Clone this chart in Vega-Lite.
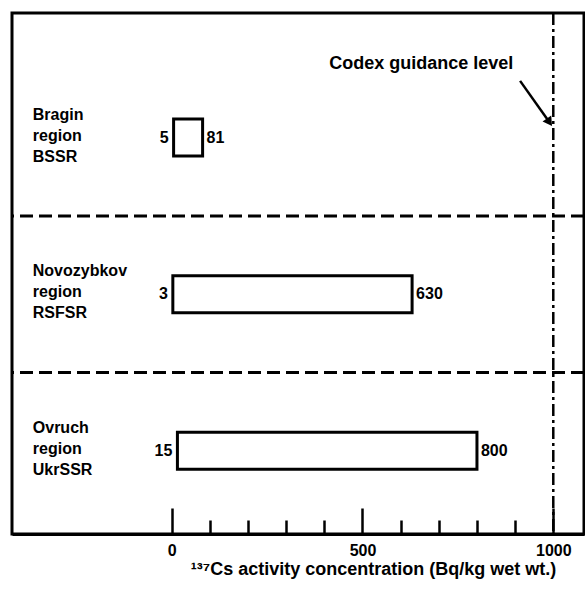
{
  "$schema": "https://vega.github.io/schema/vega-lite/v6.json",
  "width": 572,
  "height": 521,
  "autosize": {"type": "none"},
  "padding": {"left": 12, "top": 13, "right": 1, "bottom": 55},
  "background": "white",
  "config": {
    "view": {"stroke": "black", "strokeWidth": 3},
    "font": "Liberation Sans",
    "text": {"font": "Liberation Sans", "fontWeight": "bold", "fontSize": 16, "color": "black"}
  },
  "datasets": {
    "regions": [
      {"region": "Bragin\nregion\nBSSR", "row": 1, "lo": 5, "hi": 81},
      {"region": "Novozybkov\nregion\nRSFSR", "row": 2, "lo": 3, "hi": 630},
      {"region": "Ovruch\nregion\nUkrSSR", "row": 3, "lo": 15, "hi": 800}
    ],
    "separators": [{"row": 1.5}, {"row": 2.5}],
    "guidance": [{"level": 1000, "label": "Codex guidance level"}]
  },
  "resolve": {"axis": {"x": "independent"}},
  "layer": [
    {
      "data": {"name": "regions"},
      "mark": {"type": "bar", "orient": "horizontal", "size": 37, "fill": "white", "stroke": "black", "strokeWidth": 3},
      "encoding": {
        "y": {"field": "row", "type": "quantitative", "scale": {"domain": [0.2365, 3.499], "reverse": true, "nice": false, "zero": false}, "axis": null},
        "x": {
          "field": "lo", "type": "quantitative",
          "scale": {"domain": [-418.5, 1080.5], "nice": false, "zero": false},
          "axis": {
            "orient": "bottom",
            "values": [0, 500, 1000], "grid": false, "format": "d",
            "tickSize": -26, "tickWidth": 2.5, "tickColor": "black",
            "domainColor": "black", "domainWidth": 3,
            "labelFont": "Liberation Sans", "labelFontWeight": "bold", "labelFontSize": 16, "labelColor": "black", "labelPadding": 34,
            "title": "¹³⁷Cs activity concentration (Bq/kg wet wt.)",
            "titleFont": "Liberation Sans", "titleFontWeight": "bold", "titleFontSize": 18, "titleColor": "black",
            "titleX": 361, "titleY": 35, "titleBaseline": "middle", "titleAlign": "center"
          }
        },
        "x2": {"field": "hi"}
      }
    },
    {
      "data": {"name": "regions"},
      "mark": {"type": "text", "align": "right", "baseline": "middle", "dx": -5},
      "encoding": {
        "y": {"field": "row", "type": "quantitative", "axis": null},
        "x": {
          "field": "lo", "type": "quantitative",
          "axis": {
            "orient": "bottom",
            "values": [100, 200, 300, 400, 600, 700, 800, 900], "grid": false,
            "tickSize": -14, "tickWidth": 2.5, "tickColor": "black",
            "domain": false, "labels": false, "title": null
          }
        },
        "text": {"field": "lo"}
      }
    },
    {
      "data": {"name": "regions"},
      "mark": {"type": "text", "align": "left", "baseline": "middle", "dx": 4},
      "encoding": {
        "y": {"field": "row", "type": "quantitative", "axis": null},
        "x": {"field": "hi", "type": "quantitative", "axis": null},
        "text": {"field": "hi"}
      }
    },
    {
      "data": {"name": "regions"},
      "mark": {"type": "text", "align": "left", "baseline": "middle", "lineBreak": "\n", "lineHeight": 21, "dy": -23},
      "encoding": {
        "y": {"field": "row", "type": "quantitative", "axis": null},
        "x": {"datum": -364, "type": "quantitative", "axis": null},
        "text": {"field": "region"}
      }
    },
    {
      "data": {"name": "separators"},
      "mark": {"type": "rule", "color": "black", "strokeWidth": 3, "strokeDash": [13, 6]},
      "encoding": {
        "y": {"field": "row", "type": "quantitative", "axis": null}
      }
    },
    {
      "data": {"name": "guidance"},
      "mark": {"type": "rule", "color": "black", "strokeWidth": 2.5, "strokeDash": [12, 4, 3, 4]},
      "encoding": {
        "x": {"field": "level", "type": "quantitative", "axis": null}
      }
    },
    {
      "data": {"name": "guidance"},
      "mark": {"type": "text", "align": "center", "baseline": "middle", "fontSize": 18},
      "encoding": {
        "x": {"datum": 654, "type": "quantitative", "axis": null},
        "y": {"datum": 0.527, "type": "quantitative", "axis": null},
        "text": {"field": "label"}
      }
    },
    {
      "data": {"name": "guidance"},
      "mark": {"type": "rule", "color": "black", "strokeWidth": 2.5},
      "encoding": {
        "x": {"datum": 913, "type": "quantitative", "axis": null},
        "y": {"datum": 0.638, "type": "quantitative", "axis": null},
        "x2": {"datum": 990},
        "y2": {"datum": 0.902}
      }
    },
    {
      "data": {"name": "guidance"},
      "mark": {"type": "point", "shape": "triangle-up", "filled": true, "color": "black", "opacity": 1, "size": 110, "angle": 145.5},
      "encoding": {
        "x": {"datum": 990, "type": "quantitative", "axis": null},
        "y": {"datum": 0.902, "type": "quantitative", "axis": null}
      }
    }
  ]
}
